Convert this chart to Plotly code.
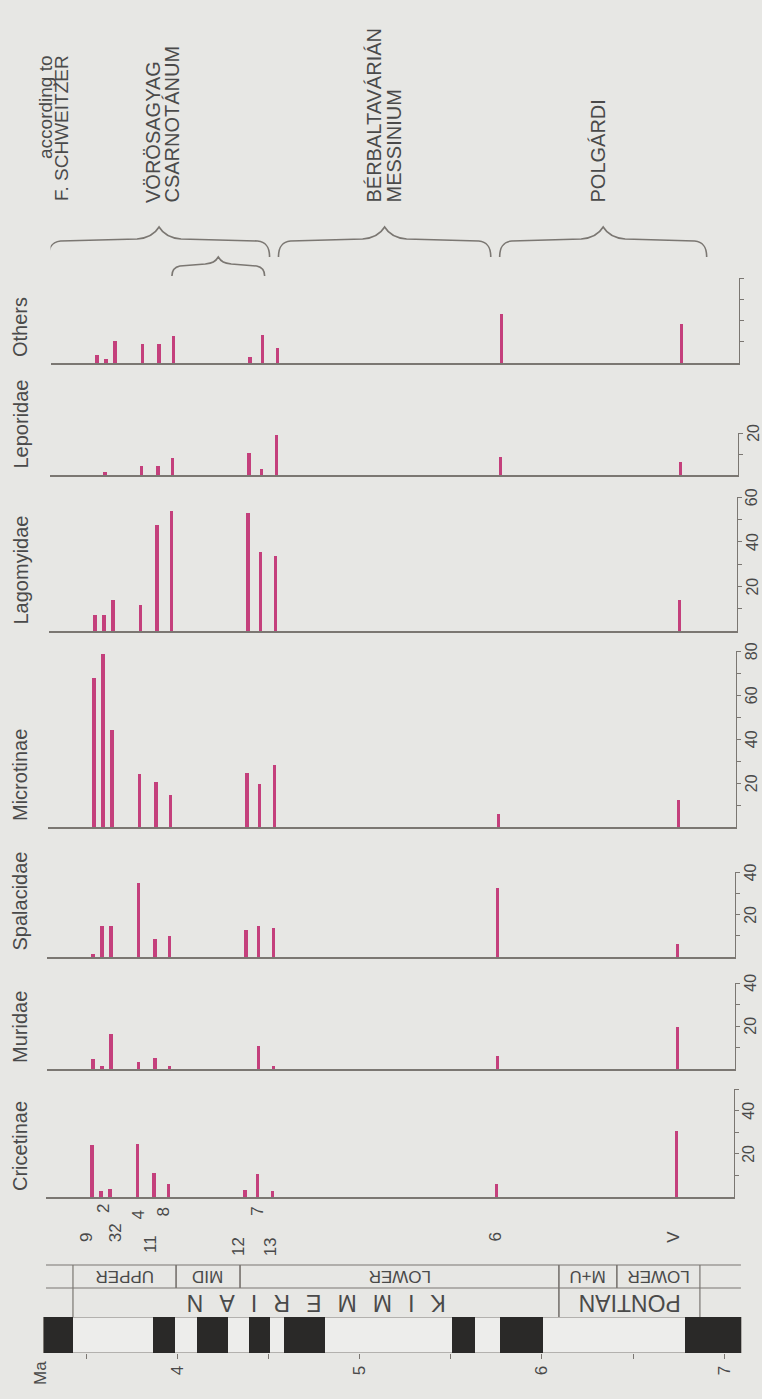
import plotly.graph_objects as go

W, H = 762, 1399

# ---------------- data ----------------
site_labels = ["9", "2", "32", "4", "11", "8", "12", "7", "13", "6", "V"]
site_ma = [3.53, 3.58, 3.63, 3.78, 3.87, 3.95, 4.37, 4.44, 4.52, 5.75, 6.74]

taxa = ["Others", "Leporidae", "Lagomyidae", "Microtinae", "Spalacidae", "Muridae", "Cricetinae"]
others = [3.6, 2.0, 10.5, 9.0, 9.0, 12.8, 2.8, 13.0, 7.0, 23.0, 18.3]
leporidae = [0, 1.5, 0, 4.3, 4.5, 8.0, 10.7, 2.7, 18.9, 8.8, 6.4]
lagomyidae = [7.3, 7.3, 14.0, 11.8, 47.4, 53.8, 52.7, 35.3, 33.5, 0, 14.1]
microtinae = [67.9, 78.8, 44.0, 24.2, 20.4, 14.6, 24.5, 19.6, 28.2, 5.9, 12.4]
spalacidae = [1.3, 14.6, 14.6, 35.0, 8.3, 9.9, 12.9, 14.4, 13.5, 32.6, 6.0]
muridae = [4.5, 1.4, 16.3, 3.4, 5.0, 1.6, 0, 10.9, 1.6, 6.2, 19.4]
cricetinae = [24.2, 2.6, 3.7, 24.5, 11.0, 6.2, 3.1, 10.8, 2.6, 6.2, 30.6]
series = [others, leporidae, lagomyidae, microtinae, spalacidae, muridae, cricetinae]
axis_max = [40, 20, 60, 80, 40, 40, 50]
axis_labels = [[], [20], [20, 40, 60], [20, 40, 60, 80], [20, 40], [20, 40], [20, 40]]

normal_polarity = [(3.265, 3.426), (3.866, 3.985), (4.106, 4.279), (4.391, 4.506),
                   (4.586, 4.807), (5.506, 5.634), (5.767, 6.007), (6.786, 7.092)]
substages = [("UPPER", 3.426, 3.992), ("MID", 3.992, 4.343), ("LOWER", 4.343, 6.093),
             ("M+U", 6.093, 6.411), ("LOWER", 6.411, 6.867)]
stages = [("K\u2002\u2009I\u2002\u2009M\u2002\u2009M\u2002\u2009E\u2002\u2009R\u2002\u2009I\u2002\u2009A\u2002\u2009N", 3.426, 6.093),
          ("PONTIAN", 6.093, 6.867)]
ma_ticks = [3.5, 4, 4.5, 5, 5.5, 6, 6.5, 7]
ma_ticktext = ["", "4", "", "5", "", "6", "", "7"]

groups = [(3.267, 4.480), (4.529, 5.694), (5.743, 6.879)]
subgroup = (3.944, 4.453)
# text, x centre (px), anchor, anchor row (px), font size
top_texts = [("according to", 46, "top", 53, 19), ("F. SCHWEITZER", 62, "top", 53, 19),
             ("VÖRÖSAGYAG", 153, "bottom", 205, 20), ("CSARNOTÁNUM", 172, "bottom", 205, 20),
             ("BÉRBALTAVÁRIÁN", 374, "bottom", 205, 20), ("MESSINIUM", 394, "bottom", 205, 20),
             ("POLGÁRDI", 598, "bottom", 205, 20)]

# ---------------- styling / layout helpers ----------------
PINK = "#c4407c"
GRAY = "#7b7772"
TEXT = "#4a4a4a"
BG = "#e7e7e4"
BLACK = "#2a2928"
FONT = "Liberation Sans, Arial, sans-serif"
PXMA = 182.2


def px(ma, off=0.0):
    return 405.3 + PXMA * (ma - 5.25) + off


def yp(y):
    return 1 - y / H


def tilt(yc):
    return (1150 - yc) * 0.0055


panel_top = [278, 433, 497, 651, 872, 983, 1089]
panel_base = [363, 475, 631, 827, 957, 1069, 1197]
X0, X1 = 3.278, 7.054

fig = go.Figure()
layout = {}
annotations = []
shapes = []

for i, (name, vals, ymax, labs) in enumerate(zip(taxa, series, axis_max, axis_labels), start=1):
    top, base = panel_top[i - 1], panel_base[i - 1]
    off = tilt((top + base) / 2)
    fig.add_trace(go.Bar(x=site_ma, y=vals, width=0.018,
                         marker=dict(color=PINK, line=dict(width=0)),
                         xaxis=f"x{i}", yaxis=f"y{i}", showlegend=False, name=name))
    layout[f"xaxis{i}"] = dict(domain=[px(X0, off) / W, px(X1, off) / W], range=[X0, X1],
                               anchor=f"y{i}", showline=True, linecolor=GRAY, linewidth=1.6,
                               ticks="", showticklabels=False, showgrid=False, zeroline=False)
    tv = list(range(10, ymax + 1, 10))
    layout[f"yaxis{i}"] = dict(domain=[yp(base), yp(top)], range=[0, ymax], anchor=f"x{i}",
                               side="right", showline=True, linecolor=GRAY, linewidth=1.2,
                               ticks="outside", ticklen=4, tickwidth=1, tickcolor=GRAY,
                               tickvals=tv, showticklabels=False,
                               showgrid=False, zeroline=False)
    for v in labs:
        annotations.append(dict(text=str(v), xref="paper", yref=f"y{i}", x=(749 + off) / W, y=v,
                                xanchor="center", yanchor="middle", textangle=-90, showarrow=False,
                                font=dict(size=16, color=TEXT, family=FONT)))
    annotations.append(dict(text=name, xref="paper", yref="paper", x=20 / W, y=yp(base - 4),
                            xanchor="center", yanchor="bottom", textangle=-90, showarrow=False,
                            font=dict(size=20, color=TEXT, family=FONT)))

# site labels
label_dx = [-6, 2, 5, 0, -4, -5, -7, -1, -2, -1, -4]
label_y = [1237, 1209, 1233, 1215, 1244, 1212, 1247, 1211, 1247, 1237, 1237]
for lab, m, dx, ly in zip(site_labels, site_ma, label_dx, label_y):
    annotations.append(dict(text=lab, xref="x7", yref="paper", x=m, y=yp(ly), xshift=dx,
                            xanchor="center", yanchor="middle", textangle=-90, showarrow=False,
                            font=dict(size=17, color=TEXT, family=FONT)))

# time scale (polarity)
T0, T1 = 3.25, 7.10
layout["xaxis8"] = dict(domain=[px(T0) / W, px(T1) / W], range=[T0, T1], anchor="y8",
                        showline=False, ticks="outside", ticklen=5, tickwidth=1, tickcolor=GRAY,
                        tickvals=ma_ticks, ticktext=ma_ticktext, tickangle=-90,
                        tickfont=dict(size=17, color=TEXT, family=FONT),
                        showgrid=False, zeroline=False)
layout["yaxis8"] = dict(domain=[yp(1353), yp(1317)], range=[0, 1], anchor="x8", visible=False)
fig.add_trace(go.Bar(x=[(a + b) / 2 for a, b in normal_polarity], y=[1] * len(normal_polarity),
                     width=[b - a for a, b in normal_polarity], base=0,
                     marker=dict(color=BLACK, line=dict(width=0)),
                     xaxis="x8", yaxis="y8", showlegend=False, name="normal polarity"))
shapes.append(dict(type="rect", xref="x8", yref="y8", x0=3.265, x1=7.092, y0=0, y1=1,
                   line=dict(color=GRAY, width=1.2), fillcolor="#ededeb", layer="below"))
for yrow in (1265, 1288):
    shapes.append(dict(type="line", xref="x8", yref="paper", x0=3.278, x1=7.092,
                       y0=yp(yrow), y1=yp(yrow), line=dict(color=GRAY, width=1.2)))
for _, a, b in substages:
    for xv in (a, b):
        shapes.append(dict(type="line", xref="x8", yref="paper", x0=xv, x1=xv,
                           y0=yp(1265), y1=yp(1288), line=dict(color=GRAY, width=1.2)))
for _, a, b in stages:
    for xv in (a, b):
        shapes.append(dict(type="line", xref="x8", yref="paper", x0=xv, x1=xv,
                           y0=yp(1288), y1=yp(1317), line=dict(color=GRAY, width=1.2)))
for name, a, b in substages:
    annotations.append(dict(text=name, xref="x8", yref="paper", x=(a + b) / 2, y=yp(1277),
                            xanchor="center", yanchor="middle", textangle=180, showarrow=False,
                            font=dict(size=17, color=TEXT, family=FONT)))
for name, a, b in stages:
    annotations.append(dict(text=name, xref="x8", yref="paper", x=(a + b) / 2, y=yp(1303),
                            xanchor="center", yanchor="middle", textangle=180, showarrow=False,
                            font=dict(size=23, color=TEXT, family=FONT)))
annotations.append(dict(text="Ma", xref="paper", yref="paper", x=40 / W, y=yp(1373),
                        xanchor="center", yanchor="middle", textangle=-90, showarrow=False,
                        font=dict(size=17, color=TEXT, family=FONT)))


# braces
def brace(a, b, y_end, y_line, y_peak, corner, half):
    k = 1 / PXMA
    c = (a + b) / 2
    segs = [
        f"M {a},{yp(y_end)}",
        f"C {a},{yp(y_line + (y_end - y_line) * 0.4)} {a + 3 * k},{yp(y_line + 1)} {a + corner * k},{yp(y_line)}",
        f"L {c - half * k},{yp(y_line - 2)}",
        f"C {c - half * 0.45 * k},{yp(y_line - 3)} {c - 3 * k},{yp(y_peak + 5)} {c},{yp(y_peak)}",
        f"C {c + 3 * k},{yp(y_peak + 5)} {c + half * 0.45 * k},{yp(y_line - 3)} {c + half * k},{yp(y_line - 2)}",
        f"L {b - corner * k},{yp(y_line)}",
        f"C {b - 3 * k},{yp(y_line + 1)} {b},{yp(y_line + (y_end - y_line) * 0.4)} {b},{yp(y_end)}",
    ]
    return " ".join(segs)


for a, b in groups:
    shapes.append(dict(type="path", xref="x1", yref="paper", path=brace(a, b, 257, 241, 227, 12, 22),
                       line=dict(color=GRAY, width=1.6)))
shapes.append(dict(type="path", xref="x1", yref="paper",
                   path=brace(subgroup[0], subgroup[1], 276, 266, 257, 8, 13),
                   line=dict(color=GRAY, width=1.6)))

for text, xpx, anchor, ypx, fs in top_texts:
    annotations.append(dict(text=text, xref="paper", yref="paper", x=xpx / W, y=yp(ypx),
                            xanchor="center", yanchor=anchor, textangle=-90, showarrow=False,
                            font=dict(size=fs, color=TEXT, family=FONT)))

fig.update_layout(width=W, height=H, autosize=False, margin=dict(l=0, r=0, t=0, b=0),
                  paper_bgcolor=BG, plot_bgcolor=BG, showlegend=False, bargap=0,
                  annotations=annotations, shapes=shapes, **layout)
fig.write_html("out.html", config={"displayModeBar": False, "responsive": False},
               post_script="document.body.style.margin='0';document.body.style.padding='0';"
                           "document.documentElement.style.overflow='hidden';"
                           "document.body.style.background='" + BG + "';")
